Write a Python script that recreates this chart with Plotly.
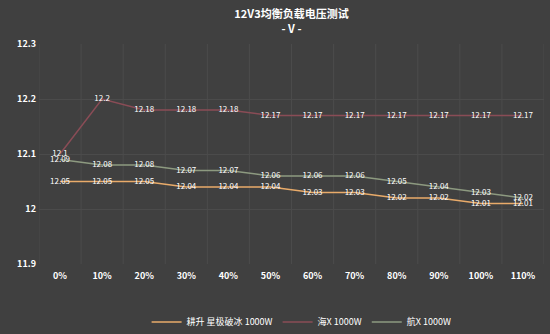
import plotly.graph_objects as go

categories = ["0%", "10%", "20%", "30%", "40%", "50%", "60%", "70%", "80%", "90%", "100%", "110%"]
gengsheng = [12.05, 12.05, 12.05, 12.04, 12.04, 12.04, 12.03, 12.03, 12.02, 12.02, 12.01, 12.01]
haix = [12.1, 12.2, 12.18, 12.18, 12.18, 12.17, 12.17, 12.17, 12.17, 12.17, 12.17, 12.17]
hangx = [12.09, 12.08, 12.08, 12.07, 12.07, 12.06, 12.06, 12.06, 12.05, 12.04, 12.03, 12.02]
names = ["耕升 星极破冰 1000W", "海X 1000W", "航X 1000W"]
colors = ["#e9ab6a", "#8a4c56", "#8d9a80"]

FONT = "Noto Sans CJK SC, Open Sans, sans-serif"

fig = go.Figure()
for name, vals, col in zip(names, [gengsheng, haix, hangx], colors):
    fig.add_trace(go.Scatter(
        x=categories, y=vals, name=name, mode="lines+text",
        line=dict(color=col, width=1.5),
        text=[("%g" % v) for v in vals],
        textposition="middle center",
        textfont=dict(color="#ffffff", size=8, family=FONT),
    ))

fig.update_layout(
    width=550, height=334,
    paper_bgcolor="#404040", plot_bgcolor="#404040",
    margin=dict(l=39, r=6, t=44, b=70, autoexpand=False),
    title=dict(
        text="<b>12V3均衡负载电压测试</b><br><b>- V -</b>",
        x=0.5, xanchor="center", xref="paper",
        yref="container", y=0.945, yanchor="middle",
        font=dict(color="#ffffff", size=11, family=FONT),
    ),
    showlegend=True,
    legend=dict(
        orientation="h", x=0.52, xanchor="center",
        yref="container", y=0.036, yanchor="middle",
        font=dict(color="#ffffff", size=9, family=FONT),
        bgcolor="rgba(0,0,0,0)", itemwidth=30,
    ),
    font=dict(family=FONT, color="#ffffff"),
)
fig.update_xaxes(
    type="category", range=[-0.5, 11.5],
    showgrid=False, zeroline=False, showline=False,
    tickfont=dict(color="#ffffff", size=9, family=FONT, weight="bold"),
    ticks="", automargin=False, ticklabelstandoff=5,
)
for i in range(len(categories) + 1):
    fig.add_shape(type="line", xref="x", yref="paper",
                  x0=i - 0.5, x1=i - 0.5, y0=0, y1=1,
                  line=dict(color="#4b4b4b", width=1), layer="below")
fig.update_yaxes(
    range=[11.9, 12.3], dtick=0.1,
    showgrid=True, gridcolor="#4b4b4b", gridwidth=1,
    zeroline=False, showline=False,
    tickfont=dict(color="#ffffff", size=9, family=FONT, weight="bold"),
    tickformat="~g", ticks="", ticksuffix=" ", automargin=False,
)

fig.write_html("out.html")
